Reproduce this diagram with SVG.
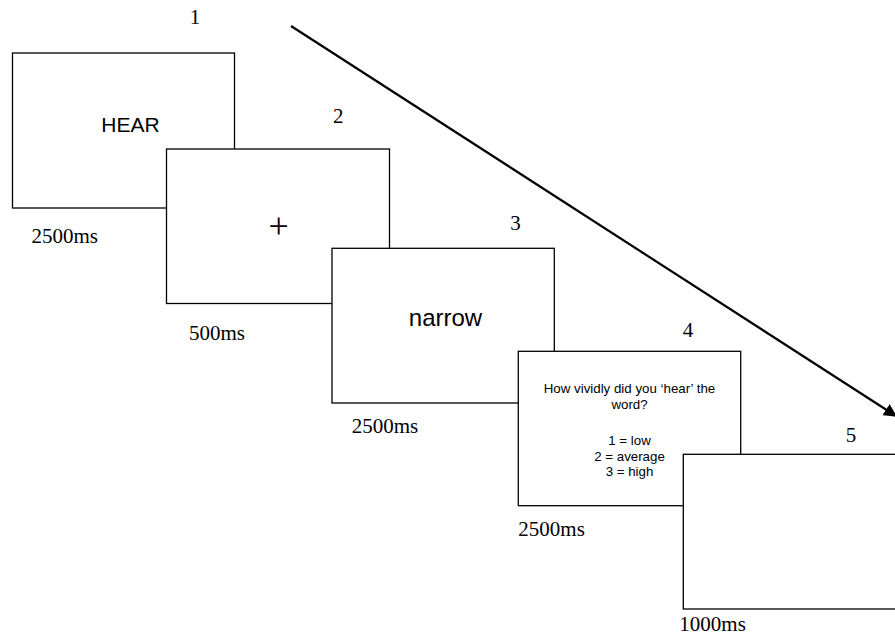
<svg xmlns="http://www.w3.org/2000/svg" width="895" height="644" viewBox="0 0 895 644">
<style>
.box{fill:#fff;stroke:#000;stroke-width:1.3}
.num{font-family:"Liberation Serif",serif;font-size:21px;text-anchor:middle;fill:#000}
.dur{font-family:"Liberation Serif",serif;font-size:21px;fill:#000}
.stim{font-family:"Liberation Sans",Arial,sans-serif;fill:#000;text-anchor:middle}
.q{font-family:"Liberation Sans",Arial,sans-serif;font-size:13.3px;fill:#000;text-anchor:middle}
</style>
<defs>
<marker id="ah" viewBox="0 0 10 10" refX="9" refY="5" markerWidth="6" markerHeight="6" orient="auto" markerUnits="strokeWidth">
<path d="M0,0 L10,5 L0,10 z" fill="#000"/>
</marker>
</defs>
<rect width="895" height="644" fill="#fff"/>
<g id="screen1">
<rect class="box" x="12.5" y="53" width="222" height="155"/>
<text class="num" x="195" y="24">1</text>
<text class="stim" x="130.5" y="131.5" font-size="21">HEAR</text>
<text class="dur" x="31.5" y="242.5">2500ms</text>
</g>
<g id="screen2">
<rect class="box" x="166.5" y="149" width="223" height="154.5"/>
<text class="num" x="338.3" y="123.3">2</text>
<text class="stim" x="278.7" y="238" font-size="36" style="font-family:'Liberation Serif',serif">+</text>
<text class="dur" x="189" y="340">500ms</text>
</g>
<g id="screen3">
<rect class="box" x="332" y="248.3" width="222.3" height="154.7"/>
<text class="num" x="515.5" y="230">3</text>
<text class="stim" x="445.5" y="325.7" font-size="24">narrow</text>
<text class="dur" x="351.7" y="433.3">2500ms</text>
</g>
<g id="screen4">
<rect class="box" x="518.3" y="351.3" width="222.4" height="154.4"/>
<text class="num" x="688" y="336.7">4</text>
<text class="q" x="629.5" y="393.3">How vividly did you ‘hear’ the</text>
<text class="q" x="629.5" y="409.3">word?</text>
<text class="q" x="629.5" y="445">1 = low</text>
<text class="q" x="629.5" y="460.7">2 = average</text>
<text class="q" x="629.5" y="476">3 = high</text>
<text class="dur" x="518.3" y="535.5">2500ms</text>
</g>
<g id="screen5">
<rect class="box" x="683.3" y="454.3" width="222" height="154.7"/>
<text class="num" x="851" y="442">5</text>
<text class="dur" x="679.3" y="631">1000ms</text>
</g>
<g id="connectors">
<line x1="291" y1="26" x2="896" y2="416" stroke="#000" stroke-width="2.2" marker-end="url(#ah)"/>
</g>
</svg>
